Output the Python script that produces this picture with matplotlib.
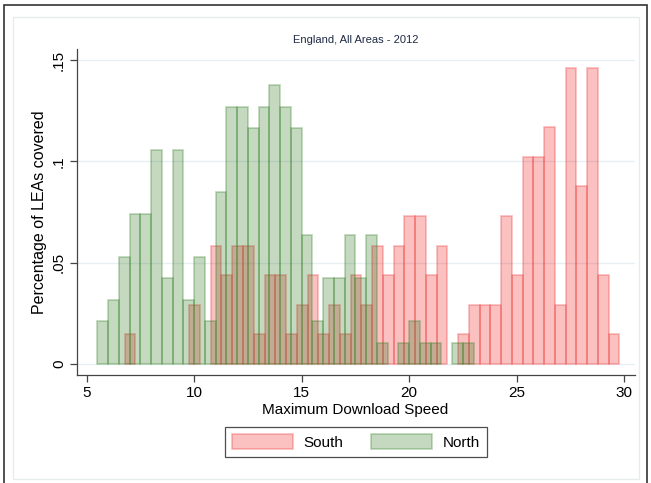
import numpy as np
import matplotlib
matplotlib.use("Agg")
import matplotlib.pyplot as plt
from matplotlib.patches import Rectangle, Patch

plt.rcParams["font.family"] = ["Liberation Sans", "DejaVu Sans"]

# Histogram bins (width 0.5) and LEA counts per bin, by region
BIN_WIDTH = 0.5
south_start = 6.77
south_counts = [1, 0, 0, 0, 0, 0, 2, 0, 4, 3, 4, 4, 1, 3, 3, 1, 2, 3, 1, 2, 1, 3, 2,
                4, 3, 4, 5, 5, 3, 4, 0, 1, 2, 2, 2, 5, 3, 7, 7, 8, 2, 10, 6, 10, 3, 1]
north_start = 5.5
north_counts = [2, 3, 5, 7, 7, 10, 4, 10, 3, 5, 2, 8, 12, 12, 11, 12, 13, 12, 11, 6,
                2, 4, 4, 6, 4, 6, 1, 0, 1, 2, 1, 1, 0, 1, 1]

x_ticks = [5, 10, 15, 20, 25, 30]
y_ticks = [0, 0.05, 0.1, 0.15]
y_ticklabels = ["0", ".05", ".1", ".15"]

SOUTH_FACE = (0.95, 0.05, 0.05, 0.26)
SOUTH_EDGE = (0.93, 0.25, 0.25, 0.32)
NORTH_FACE = (0.16, 0.45, 0.10, 0.27)
NORTH_EDGE = (0.20, 0.50, 0.15, 0.30)


def density_bars(ax, start, counts, face, edge):
    counts = np.asarray(counts, dtype=float)
    heights = counts / (counts.sum() * BIN_WIDTH)
    lefts = start + BIN_WIDTH * np.arange(len(counts))
    keep = counts > 0
    ax.bar(lefts[keep], heights[keep], width=BIN_WIDTH, align="edge",
           facecolor=face, edgecolor=edge, linewidth=1.3)


W, H = 651, 483
fig = plt.figure(figsize=(W / 100, H / 100), dpi=100)
ax = fig.add_axes([77 / W, 1 - 375 / H, (635 - 77) / W, (375 - 49) / H])

# outer frame and light inner graph-region outline
fig.add_artist(Rectangle((4 / W, -0.05), (647 - 4) / W, 1.05 - 5 / H,
                         transform=fig.transFigure, fill=False,
                         edgecolor="#333333", linewidth=1.2))
fig.add_artist(Rectangle((13 / W, 4 / H), (639 - 13) / W, (466 - 4) / H,
                         transform=fig.transFigure, fill=False,
                         edgecolor="#e6ecee", linewidth=1.0))

density_bars(ax, south_start, south_counts, SOUTH_FACE, SOUTH_EDGE)
density_bars(ax, north_start, north_counts, NORTH_FACE, NORTH_EDGE)

ax.set_xlim(4.55, 30.5)
ax.set_ylim(-0.0054, 0.1554)
ax.set_xticks(x_ticks)
ax.set_yticks(y_ticks)
ax.set_yticklabels(y_ticklabels, rotation=90, va="center")
ax.tick_params(axis="both", labelsize=11, length=5, width=0.9,
               color="#444444", pad=3)
ax.grid(axis="y", color="#e8eff1", linewidth=1.0)
ax.set_axisbelow(True)
for side in ("top", "right"):
    ax.spines[side].set_visible(False)
for side in ("left", "bottom"):
    ax.spines[side].set_color("#444444")
    ax.spines[side].set_linewidth(0.9)

fig.text(356 / W, 1 - 40 / H, "England, All Areas - 2012", ha="center",
         va="center", fontsize=8, color="#1f2a44")
fig.text(355 / W, 1 - 410 / H, "Maximum Download Speed", ha="center",
         va="center", fontsize=11)
fig.text(40 / W, 1 - 212 / H, "Percentage of LEAs covered", ha="center",
         va="center", rotation=90, fontsize=11.5)

handles = [Patch(facecolor=SOUTH_FACE, edgecolor=SOUTH_EDGE, linewidth=1.3, label="South"),
           Patch(facecolor=NORTH_FACE, edgecolor=NORTH_EDGE, linewidth=1.3, label="North")]
leg = fig.legend(handles=handles, ncol=2, loc="center",
                 bbox_to_anchor=(356 / W, 1 - 442 / H), fontsize=11,
                 frameon=True, fancybox=False, handlelength=4.0,
                 handleheight=1.1, handletextpad=0.7, columnspacing=1.8,
                 borderpad=0.45)
leg.get_frame().set_edgecolor("#222222")
leg.get_frame().set_linewidth(0.9)

fig.savefig("out.png", dpi=100, facecolor="white")
